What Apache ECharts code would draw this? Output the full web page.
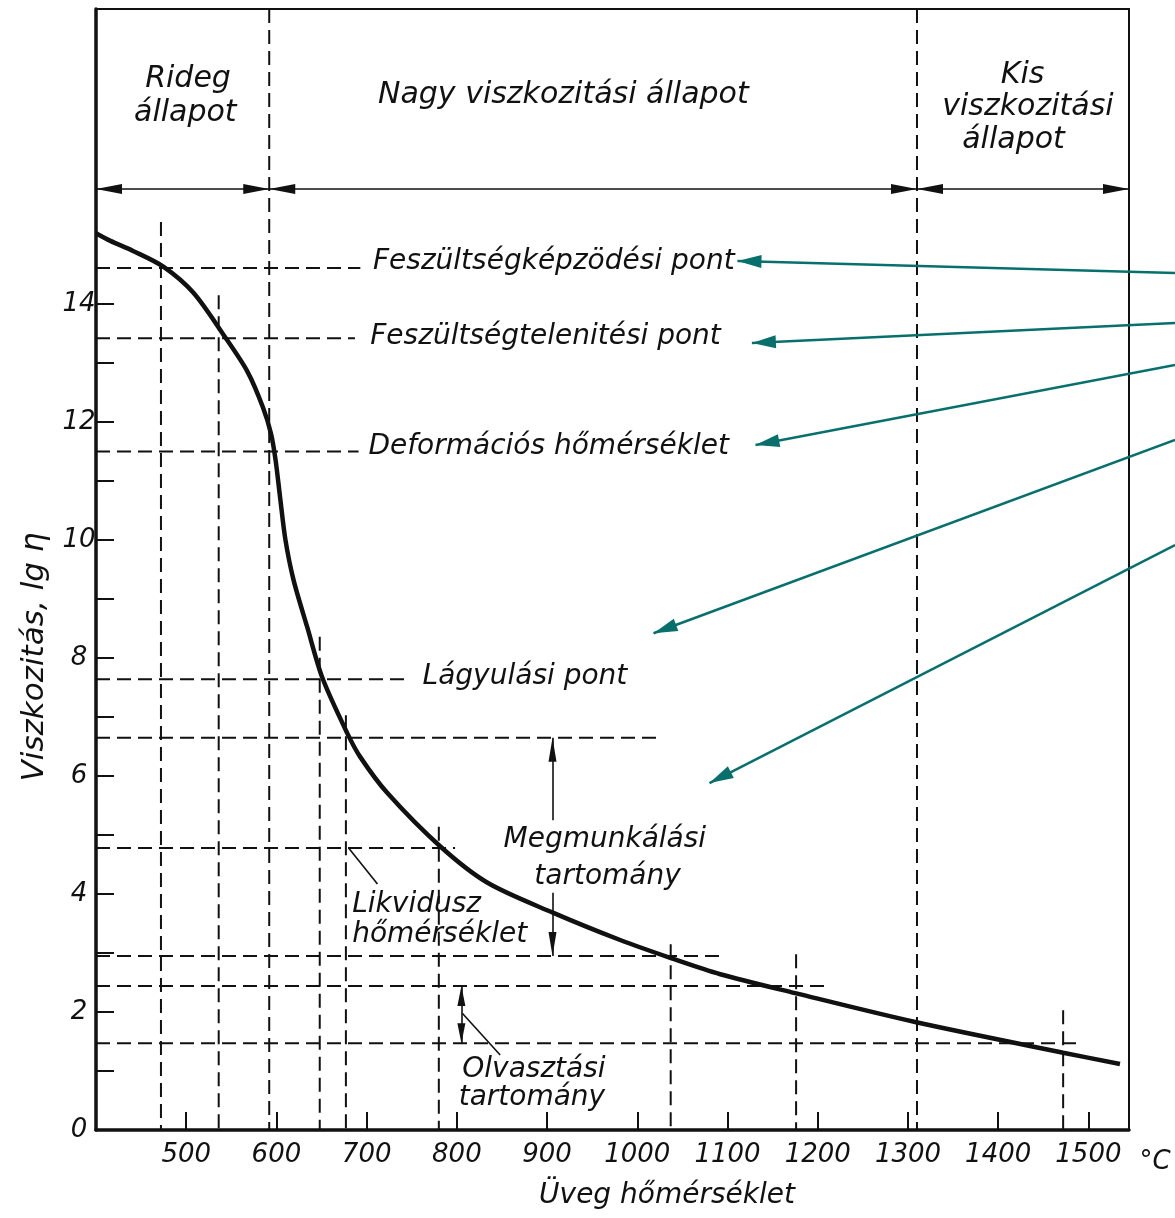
<!DOCTYPE html>
<html>
<head>
<meta charset="utf-8">
<script src="https://cdn.jsdelivr.net/npm/echarts@6/dist/echarts.min.js"></script>
<style>
html, body { margin: 0; padding: 0; background: #fff; }
#chart { width: 1175px; height: 1218px; }
</style>
</head>
<body>
<div id="chart"></div>
<script>
// viscosity curve: glass temperature (°C) -> lg eta
const curveTemp = [400, 416, 441, 475, 508, 543, 568, 585, 594, 599, 604, 610, 619, 634, 651, 679, 693, 723, 782, 834, 907, 981, 1038, 1092, 1175, 1308, 1472, 1535];
const curveVisc = [15.2, 15.07, 14.9, 14.63, 14.19, 13.44, 12.85, 12.25, 11.8, 11.36, 10.73, 10.0, 9.32, 8.53, 7.66, 6.71, 6.32, 5.71, 4.8, 4.19, 3.68, 3.22, 2.91, 2.64, 2.32, 1.83, 1.31, 1.12];

// horizontal dashed lines: level and the temperature where they stop
const levelVisc = [14.61, 13.42, 11.5, 7.64, 6.65, 4.78, 2.95, 2.44, 1.47];
const levelEnd = [693, 687, 691, 748, 1026, 798, 1097, 1210, 1491];

// vertical dashed lines: temperature and the level where they start
const dropTemp = [472, 536, 648, 677, 780, 1037, 1176, 1472];
const dropTop = [15.39, 14.15, 8.36, 7.03, 5.14, 3.15, 2.98, 2.03];

// borders of the three states, and the level of their arrows
const stateBorders = [592, 1310];
const stateArrowLevel = 15.95;

// texts of the states
const stateText = ['Rideg', 'állapot', 'Nagy viszkozitási állapot', 'Kis', 'viszkozitási', 'állapot'];
const stateTemp = [502, 499, 918, 1427, 1433, 1417];
const stateVisc = [17.81, 17.24, 17.54, 17.88, 17.34, 16.78];

// notes on the curve (left edge of the text)
const noteText = ['Feszültségképzödési pont', 'Feszültségtelenitési pont', 'Deformációs hőmérséklet', 'Lágyulási pont', 'Likvidusz', 'hőmérséklet', 'Olvasztási', 'tartomány'];
const noteTemp = [707, 704, 702, 762, 684, 684, 806, 802];
const noteVisc = [14.71, 13.44, 11.58, 7.68, 3.81, 3.31, 1.02, 0.54];

// centred note of the working range
const workText = ['Megmunkálási', 'tartomány'];
const workTemp = [964, 967];
const workVisc = [4.92, 4.29];

// working range and melting range arrows
const workArrowTemp = 906;
const workArrowUpper = [6.65, 5.25];
const workArrowLower = [4.02, 2.95];
const meltArrowTemp = 805;
const meltArrow = [2.44, 1.47];

// leader lines (from, to)
const leaderFrom = [[680, 4.78], [806, 1.98]];
const leaderTo = [[712, 4.17], [848, 1.27]];

// teal pointers coming from the right page edge
const pointerTipTemp = [1111, 1127, 1131, 1018, 1080];
const pointerTipVisc = [14.73, 13.34, 11.61, 8.42, 5.88];
const pointerStartY = [273, 323, 365, 440, 545];

const xTicks = [500, 600, 700, 800, 900, 1000, 1100, 1200, 1300, 1400, 1500];
const yTicks = [0, 1, 2, 3, 4, 5, 6, 7, 8, 9, 10, 11, 12, 13, 14];
const yLabels = [0, 2, 4, 6, 8, 10, 12, 14];

const ink = '#111';
const teal = '#07706d';
const font = "'DejaVu Sans', sans-serif";

function dashed(points) {
    return {
        type: 'line',
        data: points,
        symbol: 'none',
        silent: true,
        lineStyle: { color: ink, width: 2, type: [14, 7] },
        z: 2
    };
}

function head(coord, size) {
    return { coord: coord, symbol: 'triangle', symbolSize: size, symbolOffset: [0, '50%'] };
}

function tail(coord) {
    return { coord: coord, symbol: 'none' };
}

const series = [];

series.push({
    type: 'line',
    data: curveTemp.map((t, i) => [t, curveVisc[i]]),
    smooth: 0.3,
    symbol: 'none',
    silent: true,
    lineStyle: { color: ink, width: 4.5 },
    z: 5
});

levelVisc.forEach((v, i) => series.push(dashed([[400, v], [levelEnd[i], v]])));
dropTemp.forEach((t, i) => series.push(dashed([[t, dropTop[i]], [t, 0]])));
stateBorders.forEach(t => series.push(dashed([[t, 19], [t, 0]])));

// black arrows and leader lines
const stateEdges = [400].concat(stateBorders, [1545]);
const blackLines = [];
for (let i = 0; i < stateEdges.length - 1; i++) {
    blackLines.push([head([stateEdges[i], stateArrowLevel], [10, 26]), head([stateEdges[i + 1], stateArrowLevel], [10, 26])]);
}
blackLines.push([head([workArrowTemp, workArrowUpper[0]], [8, 24]), tail([workArrowTemp, workArrowUpper[1]])]);
blackLines.push([tail([workArrowTemp, workArrowLower[0]]), head([workArrowTemp, workArrowLower[1]], [8, 24])]);
blackLines.push([head([meltArrowTemp, meltArrow[0]], [8, 20]), head([meltArrowTemp, meltArrow[1]], [8, 20])]);
leaderFrom.forEach((p, i) => blackLines.push([tail(p), tail(leaderTo[i])]));

series.push({
    type: 'line',
    data: [],
    silent: true,
    markLine: {
        silent: true,
        animation: false,
        label: { show: false },
        lineStyle: { color: ink, width: 1.6, type: 'solid' },
        itemStyle: { color: ink },
        emphasis: { disabled: true },
        data: blackLines
    }
});

// teal pointers
series.push({
    type: 'line',
    data: [],
    silent: true,
    clip: false,
    markLine: {
        silent: true,
        animation: false,
        label: { show: false },
        lineStyle: { color: teal, width: 2.5, type: 'solid' },
        itemStyle: { color: teal },
        emphasis: { disabled: true },
        data: pointerTipTemp.map((t, i) => [
            { x: '100%', y: pointerStartY[i], symbol: 'none' },
            head([t, pointerTipVisc[i]], [13, 24])
        ])
    }
});

function textSeries(texts, temps, viscs, size, centred) {
    return {
        type: 'scatter',
        symbolSize: 0,
        silent: true,
        z: 6,
        itemStyle: { opacity: 1 },
        data: texts.map((s, i) => ({
            value: [temps[i], viscs[i]],
            label: {
                show: true,
                formatter: s,
                position: centred ? 'inside' : 'right',
                distance: 0,
                align: centred ? 'center' : 'left',
                verticalAlign: 'middle',
                color: ink,
                opacity: 1,
                fontFamily: font,
                fontStyle: 'italic',
                fontSize: size
            }
        }))
    };
}

series.push(textSeries(stateText, stateTemp, stateVisc, 30, true));
series.push(textSeries(noteText, noteTemp, noteVisc, 28, false));
series.push(textSeries(workText, workTemp, workVisc, 28, true));

const chart = echarts.init(document.getElementById('chart'));

chart.setOption({
    animation: false,
    backgroundColor: '#fff',
    grid: {
        left: 96, right: 46, top: 9, bottom: 88,
        show: true, borderColor: ink, borderWidth: 2
    },
    xAxis: {
        type: 'value',
        min: 400, max: 1545, interval: 100,
        splitLine: { show: false },
        axisLine: { show: true, lineStyle: { color: ink, width: 3.5 } },
        axisTick: { show: true, inside: true, length: 18, customValues: xTicks, lineStyle: { color: ink, width: 2 } },
        axisLabel: {
            customValues: xTicks, margin: 12,
            formatter: v => String(v),
            color: ink, fontFamily: font, fontStyle: 'italic', fontSize: 26
        }
    },
    yAxis: {
        type: 'value',
        min: 0, max: 19, interval: 1,
        splitLine: { show: false },
        axisLine: { show: true, lineStyle: { color: ink, width: 3.5 } },
        axisTick: { show: true, inside: true, length: 18, customValues: yTicks, lineStyle: { color: ink, width: 2 } },
        axisLabel: {
            customValues: yLabels, margin: 17, align: 'center',
            formatter: v => String(v),
            color: ink, fontFamily: font, fontStyle: 'italic', fontSize: 26
        }
    },
    graphic: [
        {
            type: 'text', x: 35, y: 657, rotation: Math.PI / 2, silent: true,
            style: { text: 'Viszkozitás, lg η', fill: ink, fontFamily: font, fontStyle: 'italic', fontSize: 31, align: 'center', verticalAlign: 'middle' }
        },
        {
            type: 'text', x: 667, y: 1196, silent: true,
            style: { text: 'Üveg hőmérséklet', fill: ink, fontFamily: font, fontStyle: 'italic', fontSize: 28, align: 'center', verticalAlign: 'middle' }
        },
        {
            type: 'text', x: 1155, y: 1162, silent: true,
            style: { text: '°C', fill: ink, fontFamily: font, fontStyle: 'italic', fontSize: 26, align: 'center', verticalAlign: 'middle' }
        }
    ],
    series: series
});
</script>
</body>
</html>
